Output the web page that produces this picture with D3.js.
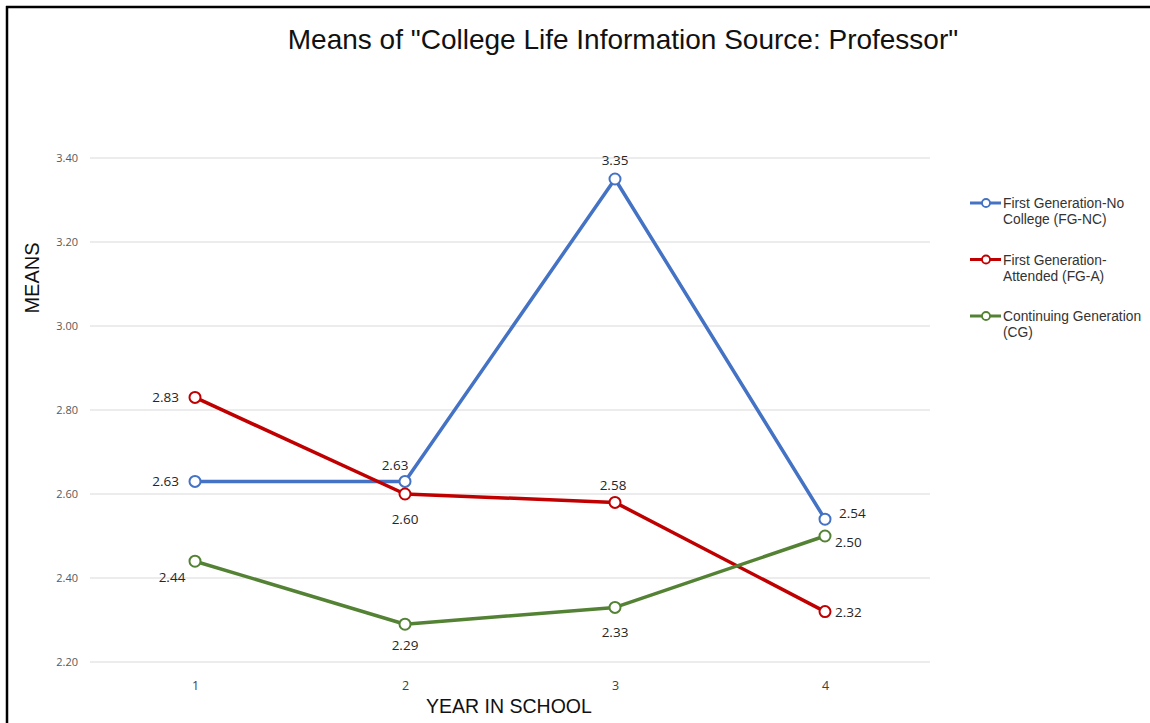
<!DOCTYPE html>
<html>
<head>
<meta charset="utf-8">
<script src="https://cdn.jsdelivr.net/npm/d3@7"></script>
<style>
	body { margin: 0; background: #fff; }
	svg { display: block; }
	.grid line { stroke: #d9d9d9; stroke-width: 1; }
	.ytick { font-family: "Open Sans", sans-serif; font-size: 11px; fill: #595959; }
	.xtick { font-family: "Open Sans", sans-serif; font-size: 12.5px; fill: #404040; }
	.dlabel { font-family: "Open Sans", sans-serif; font-size: 13.5px; font-weight: 500; fill: #262626; }
	.legend text { font-family: "Liberation Sans", Arial, sans-serif; font-size: 13.8px; fill: #333; }
</style>
</head>
<body>
<script>
// ---- data
var years = ["1", "2", "3", "4"];
var yTicks = [2.20, 2.40, 2.60, 2.80, 3.00, 3.20, 3.40];
var fgncMeans = [2.63, 2.63, 3.35, 2.54];
var fgaMeans = [2.83, 2.60, 2.58, 2.32];
var cgMeans = [2.44, 2.29, 2.33, 2.50];
var seriesNames = [
	["First Generation-No", "College (FG-NC)"],
	["First Generation-", "Attended (FG-A)"],
	["Continuing Generation", "(CG)"]
];

var W = 1150, H = 723;
var plotL = 90, plotR = 930, plotT = 158, plotB = 662;
var colors = ["#4472c4", "#c00000", "#548235"];

// where each value label sits relative to its point: [dx, dy, anchor]
var placement = [
	[[-16, 5, "end"], [-10, -11, "middle"], [0, -14, "middle"], [14, -1, "start"]],
	[[-16, 5, "end"], [0, 30, "middle"], [-2, -12, "middle"], [10, 5, "start"]],
	[[-23, 21, "middle"], [0, 26, "middle"], [0, 30, "middle"], [10, 11, "start"]]
];

var series = [fgncMeans, fgaMeans, cgMeans].map(function(v, i){
	return { name: seriesNames[i], values: v, color: colors[i], place: placement[i] };
});

var svg = d3.select("body").append("svg").attr("width", W).attr("height", H);

// frame (only top and left edges are visible in the reference)
svg.append("line").attr("x1", 6).attr("x2", W).attr("y1", 7).attr("y2", 7)
	.attr("stroke", "#000").attr("stroke-width", 2.5);
svg.append("line").attr("x1", 7).attr("x2", 7).attr("y1", 6).attr("y2", H)
	.attr("stroke", "#000").attr("stroke-width", 2.5);

var x = d3.scalePoint().domain(years).range([plotL, plotR]).padding(0.5);
var y = d3.scaleLinear().domain([2.2, 3.4]).range([plotB, plotT]);

// gridlines
var grid = svg.append("g").attr("class", "grid");
grid.selectAll("line").data(yTicks).enter().append("line")
	.attr("x1", plotL).attr("x2", plotR)
	.attr("y1", function(d){ return y(d); })
	.attr("y2", function(d){ return y(d); });

// y axis labels
var yAxis = svg.append("g").attr("transform", "translate(" + (plotL - 12) + ",0)")
	.call(d3.axisLeft(y).tickValues(yTicks).tickFormat(d3.format(".2f")).tickSize(0).tickPadding(0));
yAxis.select(".domain").remove();
yAxis.selectAll("text").attr("class", "ytick").attr("fill", null).attr("font-size", null).attr("font-family", null);

// x axis labels
var xAxis = svg.append("g").attr("transform", "translate(0," + (plotB + 19) + ")")
	.call(d3.axisBottom(x).tickSize(0).tickPadding(0));
xAxis.select(".domain").remove();
xAxis.selectAll("text").attr("class", "xtick").attr("fill", null).attr("font-size", null).attr("font-family", null);

// title and axis titles
svg.append("text").attr("x", 623).attr("y", 49).attr("text-anchor", "middle")
	.attr("font-family", "Liberation Sans, Arial, sans-serif").attr("font-size", 28).attr("fill", "#111")
	.text('Means of "College Life Information Source: Professor"');
svg.append("text").attr("transform", "translate(39,278) rotate(-90)").attr("text-anchor", "middle")
	.attr("font-family", "Liberation Sans, Arial, sans-serif").attr("font-size", 20).attr("fill", "#111")
	.text("MEANS");
svg.append("text").attr("x", 509).attr("y", 713).attr("text-anchor", "middle")
	.attr("font-family", "Liberation Sans, Arial, sans-serif").attr("font-size", 19.5).attr("fill", "#111")
	.text("YEAR IN SCHOOL");

// lines
var line = d3.line()
	.x(function(d, i){ return x(years[i]); })
	.y(function(d){ return y(d); });

var sg = svg.selectAll(".series").data(series).enter().append("g").attr("class", "series");

sg.append("path")
	.attr("d", function(s){ return line(s.values); })
	.attr("fill", "none")
	.attr("stroke", function(s){ return s.color; })
	.attr("stroke-width", 3.5)
	.attr("stroke-linejoin", "round");

sg.selectAll("circle").data(function(s){ return s.values.map(function(v){ return { v: v, s: s }; }); })
	.enter().append("circle")
	.attr("cx", function(d, i){ return x(years[i]); })
	.attr("cy", function(d){ return y(d.v); })
	.attr("r", 5.5)
	.attr("fill", "#fff")
	.attr("stroke", function(d){ return d.s.color; })
	.attr("stroke-width", 2);

sg.selectAll(".dlabel").data(function(s){ return s.values.map(function(v, i){ return { v: v, p: s.place[i] }; }); })
	.enter().append("text")
	.attr("class", "dlabel")
	.attr("x", function(d, i){ return x(years[i]) + d.p[0]; })
	.attr("y", function(d){ return y(d.v) + d.p[1]; })
	.attr("text-anchor", function(d){ return d.p[2]; })
	.text(function(d){ return d3.format(".2f")(d.v); });

// legend
var legend = svg.append("g").attr("class", "legend").attr("transform", "translate(970,203)");
var li = legend.selectAll("g").data(series).enter().append("g")
	.attr("transform", function(d, i){ return "translate(0," + (i * 56.5) + ")"; });
li.append("line").attr("x1", 0).attr("x2", 31).attr("y1", 0).attr("y2", 0)
	.attr("stroke", function(d){ return d.color; }).attr("stroke-width", 3);
li.append("circle").attr("cx", 16).attr("cy", 0).attr("r", 4)
	.attr("fill", "#fff").attr("stroke", function(d){ return d.color; }).attr("stroke-width", 1.8);
li.append("text").attr("x", 33).attr("y", 5).text(function(d){ return d.name[0]; });
li.append("text").attr("x", 33).attr("y", 21).text(function(d){ return d.name[1]; });
</script>
</body>
</html>
